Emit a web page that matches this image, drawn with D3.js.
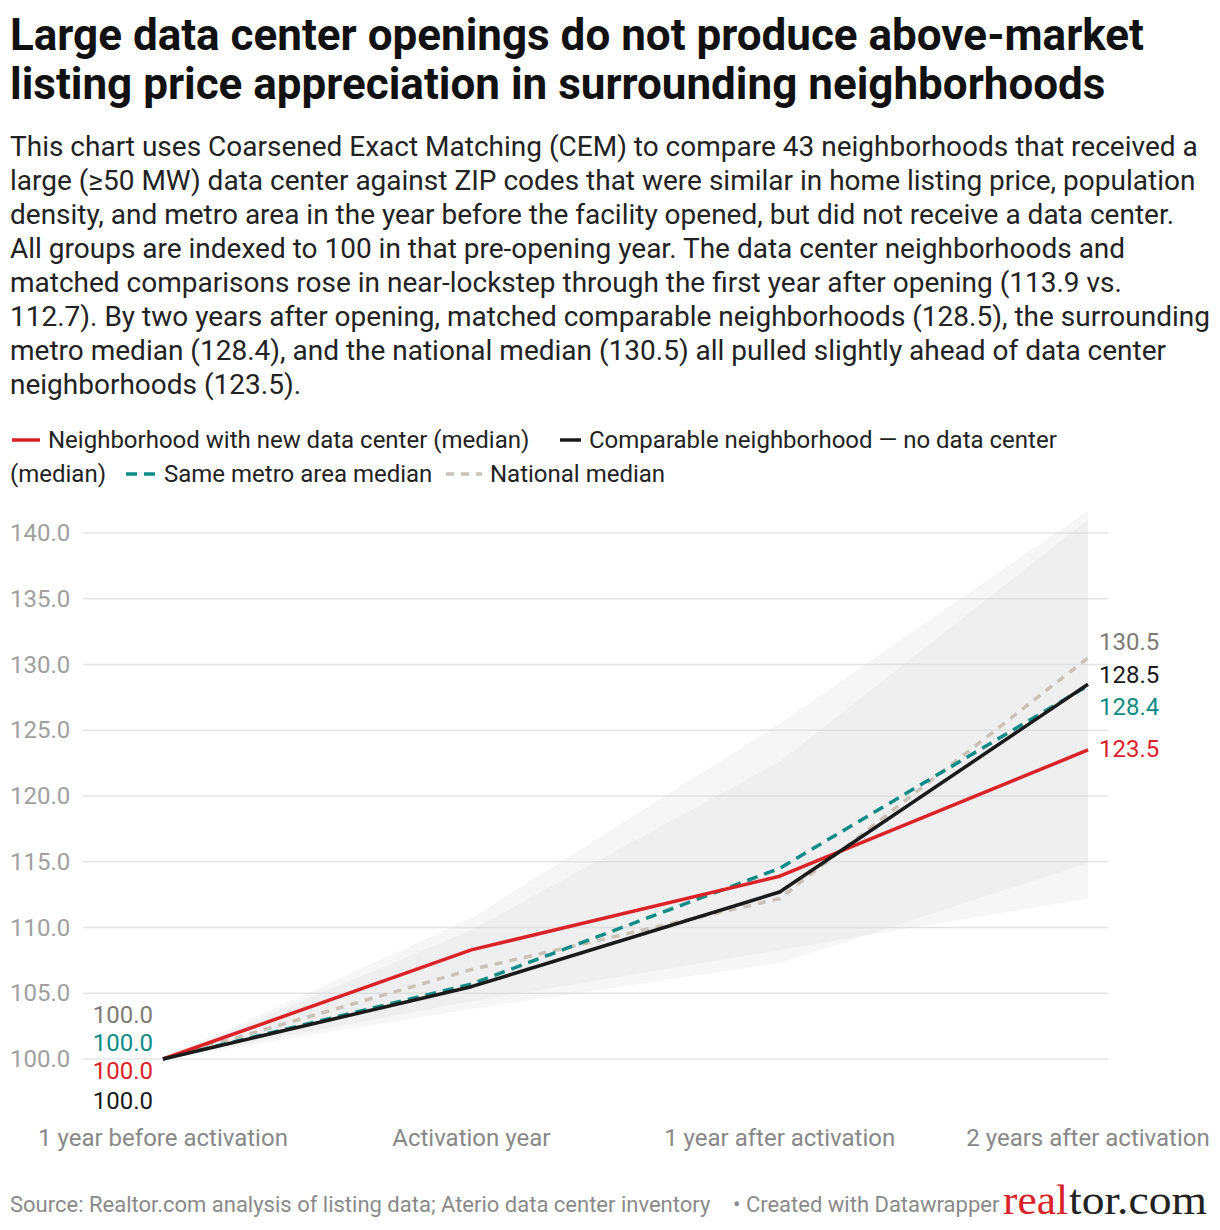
<!DOCTYPE html>
<meta charset="utf-8">
<script src="https://d3js.org/d3.v7.min.js"></script>
<head>
  <style>
  body {
    margin: 0;
    background: #fff;
    font-family: Roboto, Arial, sans-serif;
  }
  </style>
</head>
<html><body>
<div id="chart"></div>
<script>

// categories along the x axis
const categories = ["1 year before activation", "Activation year", "1 year after activation", "2 years after activation"];

// series values (index, pre-opening year = 100)
const dataCenter = [100, 108.3, 113.9, 123.5];
const comparable = [100, 105.5, 112.7, 128.5];
const metro      = [100, 105.7, 114.5, 128.4];
const national   = [100, 106.8, 112.2, 130.5];

// shaded ranges behind the lines
const rangeALow  = [100, 104.4, 108.3, 112.2];
const rangeAHigh = [100, 110.7, 125.5, 141.7];
const rangeBLow  = [100, 103.8, 107.3, 114.9];
const rangeBHigh = [100, 109.8, 122.6, 141.0];

const yTicks = [100, 105, 110, 115, 120, 125, 130, 135, 140];

const titleLines = [
  "Large data center openings do not produce above-market",
  "listing price appreciation in surrounding neighborhoods"
];
const descLines = [
  "This chart uses Coarsened Exact Matching (CEM) to compare 43 neighborhoods that received a",
  "large (\u226550 MW) data center against ZIP codes that were similar in home listing price, population",
  "density, and metro area in the year before the facility opened, but did not receive a data center.",
  "All groups are indexed to 100 in that pre-opening year. The data center neighborhoods and",
  "matched comparisons rose in near-lockstep through the first year after opening (113.9 vs.",
  "112.7). By two years after opening, matched comparable neighborhoods (128.5), the surrounding",
  "metro median (128.4), and the national median (130.5) all pulled slightly ahead of data center",
  "neighborhoods (123.5)."
];

const W = 1220, H = 1230;
const svg = d3.select("#chart").append("svg")
  .attr("width", W).attr("height", H)
  .style("font-family", "Roboto, sans-serif");

// title
svg.append("g").selectAll("text").data(titleLines).join("text")
  .attr("x", 10).attr("y", (d, i) => 50 + i * 49)
  .attr("font-size", 44).attr("font-weight", 700).attr("fill", "#111")
  .text(d => d);

// description
svg.append("g").selectAll("text").data(descLines).join("text")
  .attr("x", 10).attr("y", (d, i) => 156 + i * 34)
  .attr("font-size", 28).attr("fill", "#222")
  .text(d => d);

// series setup
const series = [
  {name: "national", values: national, color: "#c8c2b9", label: "#7f7a75", dash: "8,7"},
  {name: "metro", values: metro, color: "#108b86", label: "#108b86", dash: "11,7"},
  {name: "dataCenter", values: dataCenter, color: "#dc2229", label: "#dc2229", dash: null},
  {name: "comparable", values: comparable, color: "#1a1a1a", label: "#1a1a1a", dash: null}
];

// legend
const leg = svg.append("g").attr("font-size", 24).attr("fill", "#222");
function legendItem(x1, x2, y, color, dash, text) {
  leg.append("line").attr("x1", x1).attr("x2", x2).attr("y1", y).attr("y2", y)
    .attr("stroke", color).attr("stroke-width", 3.5)
    .attr("stroke-dasharray", dash);
  leg.append("text").attr("x", x2 + 8).attr("y", y + 8).text(text);
}
legendItem(12, 40, 440, "#dc2229", null, "Neighborhood with new data center (median)");
legendItem(560, 581, 440, "#1a1a1a", null, "Comparable neighborhood \u2014 no data center");
leg.append("text").attr("x", 10).attr("y", 482).text("(median)");
legendItem(126, 156, 474, "#108b86", "11,7", "Same metro area median");
legendItem(446, 482, 474, "#c8c2b9", "8,7", "National median");

// scales
const x = d3.scalePoint().domain(categories).range([163, 1088]);
const y = d3.scaleLinear().domain([100, 140]).range([1059, 533]);

// gridlines + y labels
const grid = svg.append("g");
grid.selectAll("line").data(yTicks).join("line")
  .attr("x1", 83).attr("x2", 1108)
  .attr("y1", d => y(d)).attr("y2", d => y(d))
  .attr("stroke", "#e4e4e4").attr("stroke-width", 1.5);
grid.selectAll("text").data(yTicks).join("text")
  .attr("x", 10).attr("y", d => y(d) + 8)
  .attr("font-size", 24).attr("fill", "#a0a0a0")
  .text(d3.format(".1f"));

// ranges
const area = (lo, hi) => d3.area()
  .x((d, i) => x(categories[i]))
  .y0((d, i) => y(lo[i]))
  .y1((d, i) => y(hi[i]))(categories);

[[rangeALow, rangeAHigh], [rangeBLow, rangeBHigh]].forEach(r => {
  svg.append("path")
    .attr("d", area(r[0], r[1]))
    .attr("fill", "#d8d8d8").attr("fill-opacity", 0.24);
});

// lines
const line = d3.line()
  .x((d, i) => x(categories[i]))
  .y(d => y(d));

series.forEach(s => {
  svg.append("path").datum(s.values)
    .attr("fill", "none")
    .attr("stroke", s.color)
    .attr("stroke-width", 3.5)
    .attr("stroke-linejoin", "round")
    .attr("stroke-dasharray", s.dash)
    .attr("d", line);
});

// start / end value labels
const fmt = d3.format(".1f");
const startOrder = {national: -44, metro: -16, dataCenter: 12, comparable: 42};
const endOrder = {national: -16, comparable: -9, metro: 21, dataCenter: -1};
series.forEach(s => {
  svg.append("text")
    .attr("x", x(categories[0]) - 10).attr("y", y(s.values[0]) + startOrder[s.name] + 8)
    .attr("text-anchor", "end").attr("font-size", 24).attr("fill", s.label)
    .text(fmt(s.values[0]));
  svg.append("text")
    .attr("x", x(categories[3]) + 11).attr("y", y(s.values[3]) + endOrder[s.name] + 8)
    .attr("font-size", 24).attr("fill", s.label)
    .text(fmt(s.values[3]));
});

// x labels
svg.append("g").selectAll("text").data(categories).join("text")
  .attr("x", d => x(d)).attr("y", 1146)
  .attr("text-anchor", "middle").attr("font-size", 24).attr("fill", "#888")
  .text(d => d);

// footer
svg.append("text").attr("x", 10).attr("y", 1212)
  .attr("font-size", 22).attr("fill", "#8a8a8a")
  .text("Source: Realtor.com analysis of listing data; Aterio data center inventory");
svg.append("text").attr("x", 733).attr("y", 1212)
  .attr("font-size", 22).attr("fill", "#8a8a8a")
  .text("\u2022 Created with Datawrapper");

// realtor.com logo
svg.append("text").attr("x", 1003).attr("y", 1214)
  .attr("font-family", "Liberation Serif, DejaVu Serif, serif")
  .attr("font-size", 42).attr("fill", "#d92228")
  .attr("textLength", 65).attr("lengthAdjust", "spacingAndGlyphs")
  .text("real");
svg.append("text").attr("x", 1069).attr("y", 1214)
  .attr("font-family", "Liberation Serif, DejaVu Serif, serif")
  .attr("font-size", 42).attr("fill", "#222")
  .attr("textLength", 138).attr("lengthAdjust", "spacingAndGlyphs")
  .text("tor.com");

</script>
</body></html>
